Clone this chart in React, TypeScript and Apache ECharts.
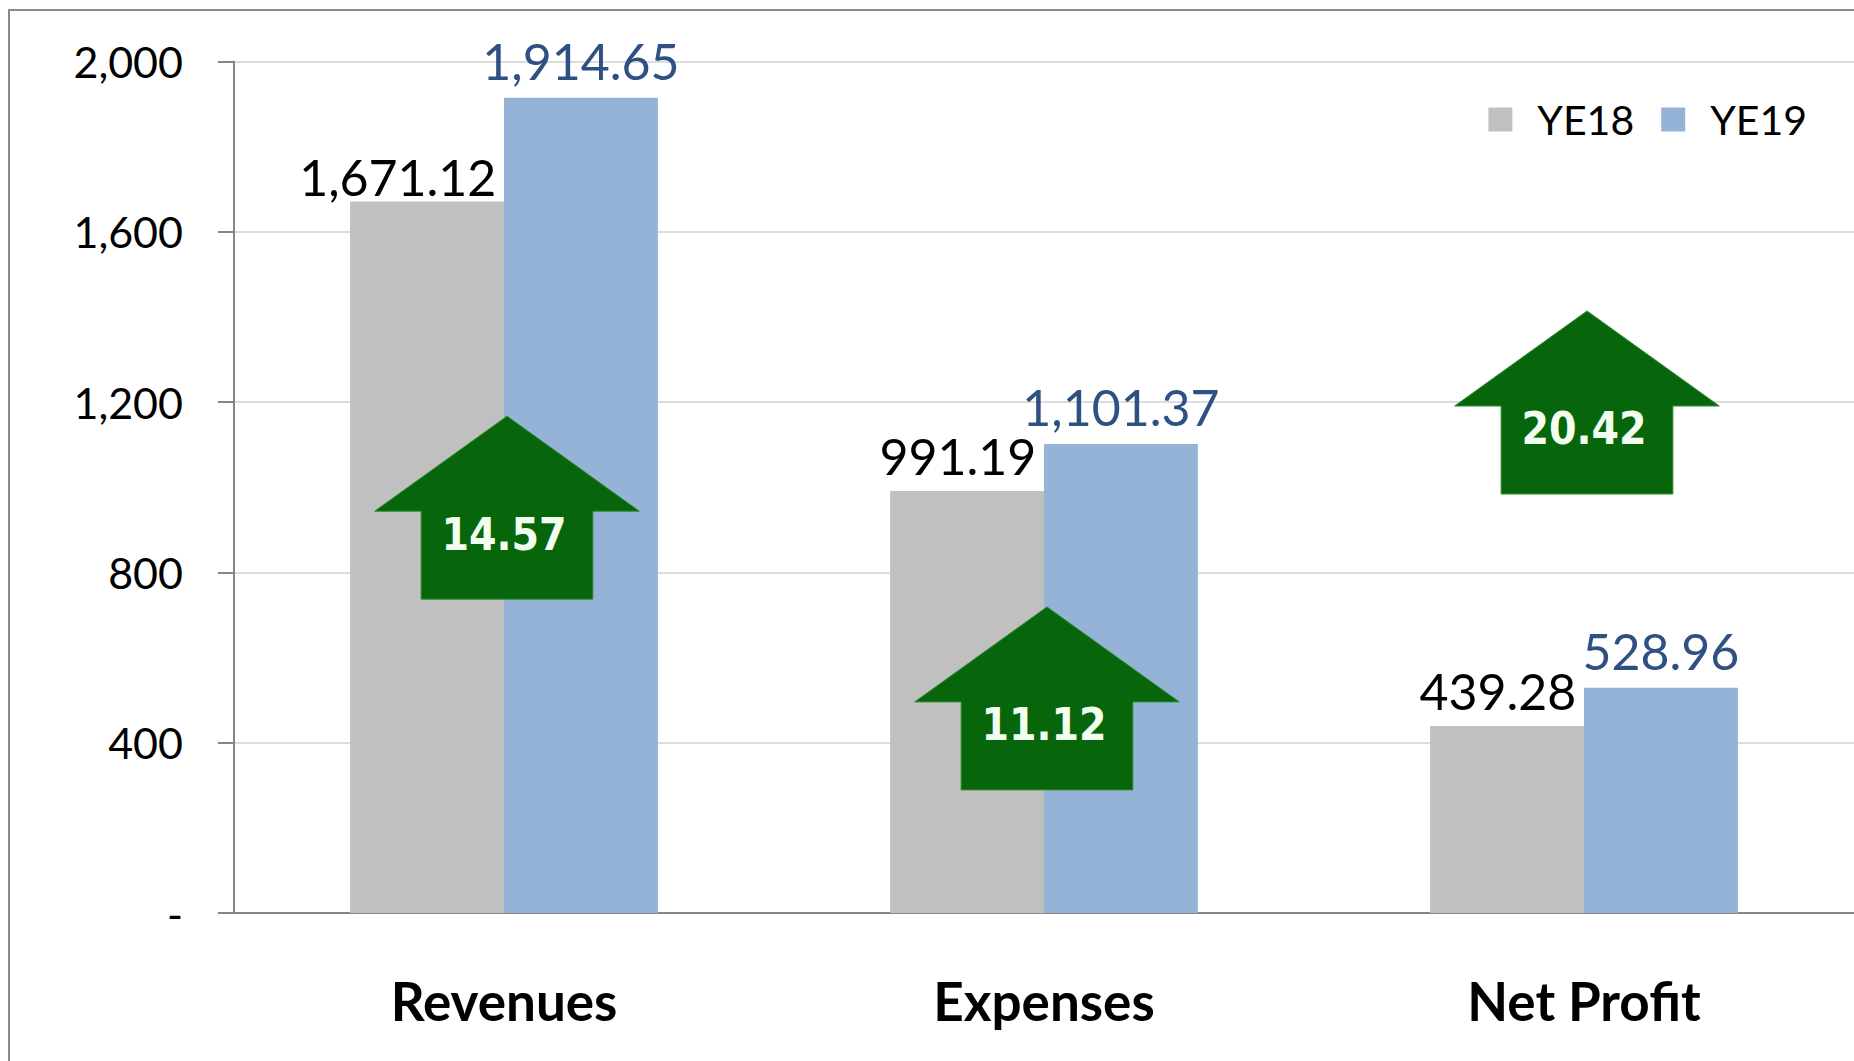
import React, { useEffect, useRef } from "react";
import * as echarts from "echarts";

const categories = ["Revenues", "Expenses", "Net Profit"];
const ye18 = [1671.12, 991.19, 439.28];
const ye19 = [1914.65, 1101.37, 528.96];
const changePct = [14.57, 11.12, 20.42];
const arrowTipValue = [1167, 719, 1414];
const yTicks = [0, 400, 800, 1200, 1600, 2000];

const fmt2 = (v: number) =>
  v.toLocaleString("en-US", { minimumFractionDigits: 2, maximumFractionDigits: 2 });

export default function App() {
  const ref = useRef<HTMLDivElement>(null);
  useEffect(() => {
    if (!ref.current) return;
    const chart = echarts.init(ref.current, null, { renderer: "svg" });
    const arrowData = categories.map((_, i) => [i, changePct[i], arrowTipValue[i]]);
    chart.setOption({
      animation: false,
      backgroundColor: "#ffffff",
      graphic: [
        {
          type: "rect",
          z: -10,
          shape: { x: 9, y: 10, width: 2000, height: 2000 },
          style: { fill: "none", stroke: "#8a8a8a", lineWidth: 2 },
        },
      ],
      legend: {
        data: ["YE18", "YE19"],
        right: 42,
        top: 94,
        icon: "rect",
        itemWidth: 24,
        itemHeight: 24,
        itemGap: 27,
        textStyle: {
          fontFamily: "Lato",
          fontSize: 41,
          color: "#000",
          padding: [0, 0, 0, 20],
        },
      },
      grid: { left: 234, right: 0, top: 61.5, bottom: 148 },
      xAxis: {
        type: "category",
        data: categories,
        axisLine: { lineStyle: { color: "#868686", width: 2 } },
        axisTick: { show: false },
        axisLabel: {
          margin: 61,
          fontFamily: "Lato",
          fontWeight: "bold",
          fontSize: 53,
          color: "#000",
        },
      },
      yAxis: {
        type: "value",
        min: yTicks[0],
        max: yTicks[yTicks.length - 1],
        interval: yTicks[1] - yTicks[0],
        axisLine: { show: true, lineStyle: { color: "#868686", width: 2 } },
        axisTick: { show: true, length: 16, lineStyle: { color: "#868686", width: 2 } },
        splitLine: { lineStyle: { color: "#dcdcdc", width: 2 } },
        axisLabel: {
          margin: 51,
          fontFamily: "Lato",
          fontSize: 43,
          color: "#000",
          formatter: (v: number) => (v === 0 ? "-" : v.toLocaleString("en-US")),
        },
      },
      series: [
        {
          name: "YE18",
          type: "bar",
          barGap: "0%",
          barCategoryGap: "43%",
          itemStyle: { color: "#c0c0c0" },
          data: ye18.map((v, i) =>
            i === 0 ? { value: v, label: { position: ["95%", -25] } } : v
          ),
          label: {
            show: true,
            position: ["95%", -35],
            align: "right",
            verticalAlign: "middle",
            fontFamily: "Lato",
            fontSize: 50,
            color: "#000",
            formatter: (p: any) => fmt2(p.value),
          },
        },
        {
          name: "YE19",
          type: "bar",
          itemStyle: { color: "#95b3d7" },
          data: ye19,
          label: {
            show: true,
            position: ["50%", -37],
            align: "center",
            verticalAlign: "middle",
            fontFamily: "Lato",
            fontSize: 50,
            color: "#2f5082",
            formatter: (p: any) => fmt2(p.value),
          },
        },
        {
          name: "change",
          type: "custom",
          z: 5,
          encode: { x: 0, y: 2 },
          data: arrowData,
          renderItem: (params: any, api: any) => {
            const idx = api.value(0);
            const tip = api.coord([idx, api.value(2)]);
            const bw = api.size([1, 0])[0];
            const headW = bw * 0.49;
            const shaftW = bw * 0.318;
            const headH = 95;
            const total = 183;
            const cx = tip[0] + 3;
            const ty = tip[1];
            return {
              type: "group",
              children: [
                {
                  type: "polygon",
                  shape: {
                    points: [
                      [cx, ty],
                      [cx + headW / 2, ty + headH],
                      [cx + shaftW / 2, ty + headH],
                      [cx + shaftW / 2, ty + total],
                      [cx - shaftW / 2, ty + total],
                      [cx - shaftW / 2, ty + headH],
                      [cx - headW / 2, ty + headH],
                    ],
                  },
                  style: { fill: "#07660b", stroke: "#2f8a2f", lineWidth: 1 },
                },
                {
                  type: "text",
                  x: cx - 3,
                  y: ty + 118,
                  style: {
                    text: api.value(1).toFixed(2),
                    fontFamily: "'DejaVu Sans Condensed', 'DejaVu Sans'",
                    fontWeight: "bold",
                    fontSize: 44,
                    fill: "#f2fff0",
                    align: "center",
                    verticalAlign: "middle",
                  },
                },
              ],
            };
          },
        },
      ],
    });
    return () => chart.dispose();
  }, []);
  return (
    <div
      ref={ref}
      style={{ position: "absolute", left: 0, top: 0, width: 1854, height: 1061, background: "#fff" }}
    />
  );
}
